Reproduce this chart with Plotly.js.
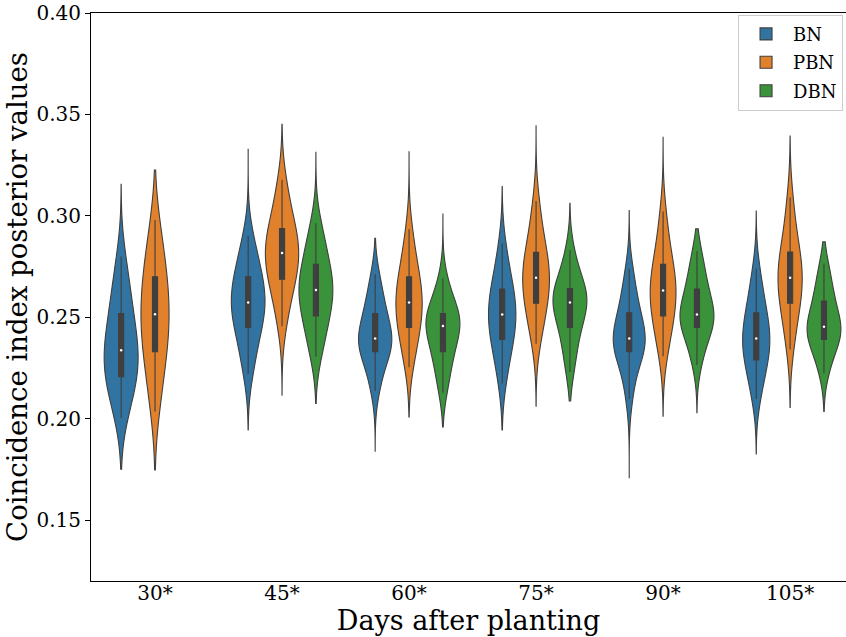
<!DOCTYPE html>
<html><head><meta charset="utf-8">
<script src="https://cdn.plot.ly/plotly-3.0.1.min.js"></script>
<style>html,body{margin:0;padding:0;background:#fff}</style>
</head><body>
<div id="chart" style="width:846px;height:637px"></div>
<script>
// ---- data ----
const days = ['30*', '45*', '60*', '75*', '90*', '105*'];
const seriesNames = ['BN', 'PBN', 'DBN'];

// posterior samples (quantile summary) per day
const BN_samples = [
  [.2003,.2073,.2129,.2171,.2207,.2238,.2266,.2294,.2322,.2353,.2392,.2433,.2473,.2519,.2571,.2631,.2700,.2800],
  [.2221,.2290,.2360,.2411,.2450,.2483,.2511,.2537,.2561,.2586,.2612,.2640,.2668,.2700,.2736,.2777,.2833,.2902],
  [.2137,.2200,.2260,.2300,.2330,.2349,.2364,.2378,.2389,.2403,.2434,.2461,.2488,.2519,.2555,.2595,.2648,.2712],
  [.2173,.2250,.2314,.2355,.2391,.2421,.2449,.2475,.2501,.2527,.2553,.2579,.2607,.2639,.2673,.2714,.2780,.2864],
  [.2097,.2185,.2255,.2300,.2330,.2347,.2362,.2378,.2389,.2403,.2432,.2461,.2490,.2522,.2560,.2605,.2665,.2739],
  [.2097,.2160,.2215,.2255,.2290,.2316,.2340,.2363,.2385,.2407,.2435,.2463,.2491,.2522,.2560,.2605,.2665,.2739]
];
const PBN_samples = [
  [.2036,.2137,.2218,.2279,.2330,.2376,.2416,.2457,.2496,.2533,.2572,.2613,.2654,.2700,.2752,.2813,.2870,.2980],
  [.2456,.2540,.2609,.2652,.2688,.2720,.2749,.2778,.2805,.2829,.2853,.2878,.2906,.2938,.2976,.3026,.3094,.3178],
  [.2254,.2321,.2375,.2416,.2450,.2481,.2508,.2535,.2561,.2586,.2612,.2640,.2668,.2700,.2738,.2784,.2850,.2934],
  [.2369,.2437,.2492,.2534,.2569,.2600,.2629,.2656,.2682,.2708,.2734,.2761,.2790,.2820,.2860,.2910,.2985,.3073],
  [.2308,.2375,.2430,.2472,.2507,.2538,.2567,.2594,.2620,.2645,.2670,.2697,.2727,.2761,.2802,.2855,.2930,.3021],
  [.2341,.2415,.2480,.2530,.2569,.2600,.2629,.2656,.2682,.2708,.2735,.2763,.2792,.2822,.2865,.2920,.3000,.3091]
];
const DBN_samples = [
  [],
  [.2305,.2367,.2424,.2469,.2507,.2543,.2573,.2598,.2623,.2645,.2670,.2695,.2725,.2761,.2799,.2844,.2901,.2963],
  [.2129,.2197,.2252,.2295,.2330,.2362,.2390,.2417,.2444,.2470,.2478,.2490,.2503,.2519,.2545,.2580,.2630,.2693],
  [.2230,.2300,.2360,.2410,.2450,.2487,.2515,.2538,.2561,.2585,.2595,.2607,.2622,.2642,.2670,.2710,.2765,.2832],
  [.2265,.2325,.2380,.2420,.2450,.2467,.2482,.2495,.2507,.2521,.2549,.2576,.2605,.2639,.2675,.2715,.2770,.2826],
  [.2224,.2280,.2330,.2365,.2391,.2408,.2423,.2435,.2447,.2459,.2487,.2515,.2546,.2580,.2615,.2655,.2705,.2765]
];
// extent of each violin (lowest / highest value reached)
const BN_extent  = [[.1751,.3156],[.1944,.3328],[.1840,.2889],[.1944,.3144],[.1706,.3026],[.1826,.3024]];
const PBN_extent = [[.1747,.3226],[.2116,.3451],[.2009,.3316],[.2062,.3444],[.2012,.3387],[.2056,.3394]];
const DBN_extent = [null,[.2075,.3313],[.1960,.3009],[.2087,.3062],[.2030,.2936],[.2036,.2872]];

const yTicks = [0.15, 0.20, 0.25, 0.30, 0.35, 0.40];

// ---- styles ----
const colors = {BN: '#3274a1', PBN: '#e1812c', DBN: '#3a923a'};
const edge = '#3f3f3f';
const FONT = 'DejaVu Serif, serif';

const allSamples = {BN: BN_samples, PBN: PBN_samples, DBN: DBN_samples};
const allExtent = {BN: BN_extent, PBN: PBN_extent, DBN: DBN_extent};

function median(a) {
  const s = a.slice().sort((p, q) => p - q);
  const n = s.length;
  return n % 2 ? s[(n - 1) / 2] : (s[n / 2 - 1] + s[n / 2]) / 2;
}
function sd(a) {
  const m = a.reduce((p, q) => p + q, 0) / a.length;
  return Math.sqrt(a.reduce((p, q) => p + (q - m) * (q - m), 0) / (a.length - 1));
}

const traces = [];
seriesNames.forEach(function (name) {
  let first = true;
  days.forEach(function (day, i) {
    const ys = allSamples[name][i];
    if (!ys || !ys.length) return;
    traces.push({
      type: 'violin',
      x: ys.map(() => day),
      y: ys,
      name: name,
      legendgroup: name,
      showlegend: first,
      offsetgroup: name,
      alignmentgroup: 'all',
      scalegroup: day,
      scalemode: 'width',
      spanmode: 'manual',
      span: allExtent[name][i],
      bandwidth: 0.6 * sd(ys),
      fillcolor: colors[name],
      opacity: 1,
      line: {color: edge, width: 1.1},
      points: false,
      box: {visible: true, width: 0.15, fillcolor: edge, line: {color: edge, width: 1.1}},
      meanline: {visible: false},
      hoverinfo: 'skip'
    });
    first = false;
  });
});
// white median dots
seriesNames.forEach(function (name) {
  const xs = [], ys = [];
  days.forEach(function (day, i) {
    const s = allSamples[name][i];
    if (s && s.length) { xs.push(day); ys.push(median(s)); }
  });
  traces.push({
    type: 'scatter', mode: 'markers', x: xs, y: ys,
    offsetgroup: name, alignmentgroup: 'all',
    marker: {color: 'white', size: 2.5},
    showlegend: false, hoverinfo: 'skip'
  });
});

const layout = {
  width: 846, height: 637,
  margin: {l: 91, r: 0, t: 13, b: 56, pad: 0},
  paper_bgcolor: 'white', plot_bgcolor: 'white',
  violinmode: 'group', violingap: 0.2, violingroupgap: 0,
  scattermode: 'group', scattergap: 0.2,
  hovermode: false,
  font: {family: FONT, color: 'black'},
  showlegend: true,
  legend: {
    x: 0.857, y: 0.997, xanchor: 'left', yanchor: 'top',
    bgcolor: 'white', bordercolor: '#cccccc', borderwidth: 1,
    font: {family: FONT, size: 18, color: 'black'},
    tracegroupgap: 2, itemwidth: 44
  },
  xaxis: {
    type: 'category', categoryorder: 'array', categoryarray: days,
    range: [-0.504, 5.44],
    showgrid: false, zeroline: false,
    showline: true, linecolor: 'black', linewidth: 1, mirror: true,
    ticks: '', ticklabelstandoff: -6,
    tickfont: {family: FONT, size: 20, color: 'black'},
    title: {text: 'Days after planting', font: {family: FONT, size: 27, color: 'black'}, standoff: 4}
  },
  yaxis: {
    range: [0.12, 0.40],
    tickvals: yTicks, ticktext: yTicks.map(v => v.toFixed(2)),
    showgrid: false, zeroline: false,
    showline: true, linecolor: 'black', linewidth: 1,
    ticks: 'outside', ticklen: 5, tickcolor: 'black',
    tickfont: {family: FONT, size: 20, color: 'black'},
    title: {text: 'Coincidence index posterior values', font: {family: FONT, size: 27.5, color: 'black'}, standoff: 0}
  }
};

Plotly.newPlot('chart', traces, layout, {staticPlot: true, displayModeBar: false});
</script>
</body></html>
